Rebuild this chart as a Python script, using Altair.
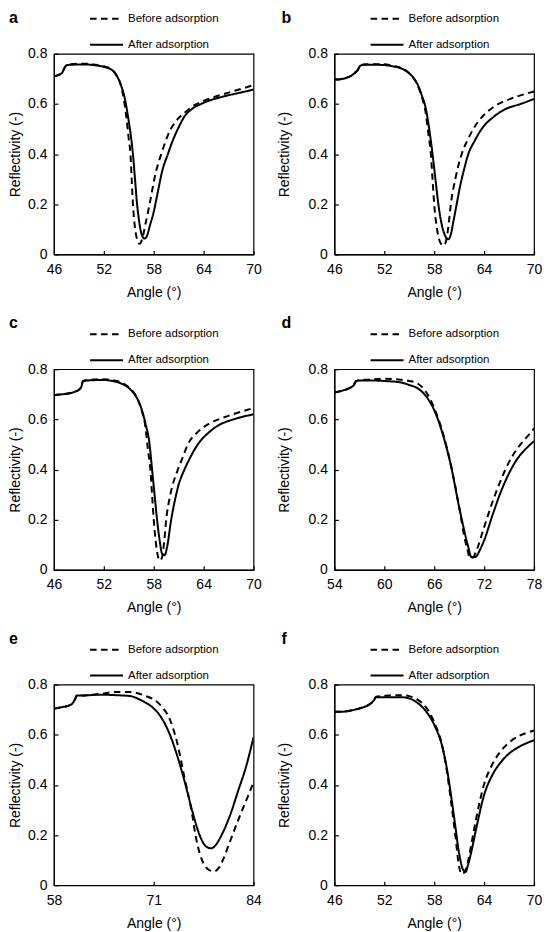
import altair as alt
import pandas as pd

FONT = "Liberation Sans"
SERIES = ["Before adsorption", "After adsorption"]
Y_TICKS = [0, 0.2, 0.4, 0.6, 0.8]

# ---------------- panel a ----------------
A_XTICKS = [46, 52, 58, 64, 70]
A_BEFORE_ANGLE = [46.0, 46.5, 47.0, 47.3, 47.6, 49.0, 50.0, 51.0, 52.0, 53.0, 53.5, 54.0, 54.4, 54.7, 55.0,
                  55.2, 55.35, 55.5, 55.7, 56.0, 56.3, 56.6, 57.0, 57.5, 58.2, 58.9, 59.9, 60.9, 61.9, 62.9,
                  64.0, 65.3, 67.0, 68.5, 70.0]
A_BEFORE_R = [0.710, 0.715, 0.725, 0.745, 0.757, 0.760, 0.760, 0.756, 0.750, 0.736, 0.715, 0.680, 0.620, 0.550, 0.460,
              0.400, 0.300, 0.200, 0.120, 0.060, 0.042, 0.060, 0.120, 0.200, 0.320, 0.400, 0.490, 0.540, 0.570, 0.595,
              0.612, 0.628, 0.645, 0.660, 0.675]
A_AFTER_ANGLE = [46.0, 46.5, 47.0, 47.3, 47.6, 49.0, 50.0, 51.0, 52.0, 53.0, 53.5, 54.0, 54.5, 55.0, 55.3,
                 55.5, 55.75, 56.0, 56.3, 56.6, 56.9, 57.2, 57.5, 58.0, 58.5, 59.0, 59.7, 60.3, 60.9, 61.7,
                 62.6, 63.7, 65.0, 66.4, 68.0, 70.0]
A_AFTER_R = [0.710, 0.715, 0.725, 0.745, 0.755, 0.757, 0.757, 0.754, 0.748, 0.735, 0.715, 0.680, 0.625, 0.530, 0.460,
             0.400, 0.300, 0.200, 0.120, 0.075, 0.063, 0.075, 0.110, 0.170, 0.250, 0.330, 0.400, 0.455, 0.500, 0.550,
             0.580, 0.600, 0.617, 0.630, 0.642, 0.657]

# ---------------- panel b ----------------
B_XTICKS = [46, 52, 58, 64, 70]
B_BEFORE_ANGLE = [46.0, 47.0, 47.5, 48.0, 48.5, 48.8, 49.1, 49.5, 50.0, 52.0, 53.0, 54.0, 55.0, 56.0, 56.5,
                  57.0, 57.3, 57.6, 57.8, 58.0, 58.3, 58.7, 59.1, 59.4, 59.7, 60.0, 60.6, 61.3, 62.0, 62.7,
                  63.8, 65.0, 66.4, 68.0, 70.0]
B_BEFORE_R = [0.697, 0.700, 0.705, 0.712, 0.725, 0.735, 0.752, 0.757, 0.758, 0.758, 0.752, 0.744, 0.722, 0.675, 0.630,
              0.560, 0.480, 0.400, 0.300, 0.200, 0.110, 0.050, 0.035, 0.050, 0.110, 0.200, 0.310, 0.400, 0.455, 0.500,
              0.550, 0.585, 0.610, 0.630, 0.650]
B_AFTER_ANGLE = [46.0, 47.0, 47.5, 48.0, 48.5, 48.8, 49.1, 49.5, 51.0, 52.0, 53.0, 54.0, 55.0, 55.5, 56.0,
                 56.5, 57.0, 57.4, 57.8, 58.15, 58.5, 58.9, 59.3, 59.7, 60.0, 60.3, 60.7, 61.1, 61.6, 62.1,
                 62.9, 63.7, 65.2, 66.6, 68.4, 70.0]
B_AFTER_R = [0.697, 0.700, 0.705, 0.712, 0.725, 0.735, 0.752, 0.756, 0.756, 0.755, 0.750, 0.742, 0.722, 0.705, 0.678,
             0.635, 0.580, 0.500, 0.400, 0.300, 0.200, 0.120, 0.075, 0.060, 0.080, 0.130, 0.200, 0.270, 0.340, 0.400,
             0.455, 0.500, 0.550, 0.580, 0.600, 0.620]

# ---------------- panel c ----------------
C_XTICKS = [46, 52, 58, 64, 70]
C_BEFORE_ANGLE = [46.0, 47.0, 48.0, 48.5, 49.0, 49.3, 49.5, 50.0, 52.0, 53.0, 54.0, 55.0, 56.0, 56.5, 57.0,
                  57.3, 57.6, 57.8, 58.0, 58.25, 58.5, 58.75, 59.0, 59.25, 59.5, 60.0, 60.9, 61.5, 62.1, 63.3,
                  64.5, 65.8, 67.5, 70.0]
C_BEFORE_R = [0.697, 0.700, 0.705, 0.710, 0.718, 0.730, 0.752, 0.757, 0.760, 0.757, 0.748, 0.728, 0.685, 0.640, 0.570,
              0.480, 0.400, 0.300, 0.200, 0.110, 0.055, 0.037, 0.050, 0.110, 0.200, 0.300, 0.400, 0.450, 0.500, 0.550,
              0.580, 0.600, 0.620, 0.645]
C_AFTER_ANGLE = [46.0, 47.0, 48.0, 48.5, 49.0, 49.3, 49.5, 50.0, 52.0, 53.0, 54.0, 55.0, 55.5, 56.0, 56.5,
                 57.0, 57.5, 57.8, 58.1, 58.4, 58.7, 59.0, 59.3, 59.6, 60.1, 60.5, 61.0, 61.7, 62.5, 63.3,
                 64.7, 66.0, 67.6, 70.0]
C_AFTER_R = [0.697, 0.700, 0.705, 0.710, 0.718, 0.730, 0.752, 0.755, 0.757, 0.753, 0.744, 0.725, 0.708, 0.684, 0.645,
             0.584, 0.500, 0.400, 0.300, 0.200, 0.120, 0.065, 0.058, 0.090, 0.200, 0.270, 0.340, 0.400, 0.455, 0.500,
             0.550, 0.580, 0.600, 0.620]

# ---------------- panel d ----------------
D_XTICKS = [54, 60, 66, 72, 78]
D_BEFORE_ANGLE = [54.0, 55.0, 55.5, 56.0, 56.3, 56.6, 57.0, 58.0, 60.0, 62.0, 63.0, 64.0, 65.0, 66.0, 67.0,
                  68.0, 69.0, 69.7, 70.0, 70.3, 70.7, 71.0, 72.0, 73.0, 74.0, 75.0, 76.0, 77.0, 78.0]
D_BEFORE_R = [0.707, 0.715, 0.720, 0.728, 0.735, 0.752, 0.756, 0.758, 0.762, 0.758, 0.753, 0.743, 0.710, 0.645, 0.550,
              0.420, 0.250, 0.120, 0.080, 0.047, 0.050, 0.070, 0.170, 0.270, 0.357, 0.430, 0.484, 0.524, 0.564]
D_AFTER_ANGLE = [54.0, 55.0, 55.5, 56.0, 56.3, 56.6, 57.0, 58.0, 60.0, 62.0, 63.0, 64.0, 65.0, 66.0, 67.0,
                 68.0, 69.0, 70.0, 70.5, 71.0, 71.5, 72.0, 73.0, 74.0, 75.0, 76.0, 77.0, 78.0]
D_AFTER_R = [0.707, 0.715, 0.720, 0.728, 0.735, 0.752, 0.755, 0.755, 0.753, 0.747, 0.737, 0.724, 0.693, 0.637, 0.544,
             0.417, 0.250, 0.104, 0.050, 0.052, 0.080, 0.117, 0.217, 0.310, 0.385, 0.443, 0.482, 0.513]

# ---------------- panel e ----------------
E_XTICKS = [58, 71, 84]
E_BEFORE_ANGLE = [58.0, 59.0, 60.0, 60.5, 60.8, 61.0, 62.0, 64.0, 66.0, 68.0, 70.0, 71.0, 72.0, 73.0, 74.0,
                  75.0, 76.0, 76.5, 77.0, 78.0, 78.8, 79.5, 80.0, 81.0, 82.0, 83.0, 84.0]
E_BEFORE_R = [0.704, 0.710, 0.717, 0.728, 0.745, 0.757, 0.757, 0.763, 0.770, 0.770, 0.754, 0.741, 0.714, 0.668, 0.575,
              0.430, 0.284, 0.190, 0.126, 0.066, 0.055, 0.070, 0.100, 0.180, 0.260, 0.335, 0.410]
E_AFTER_ANGLE = [58.0, 59.0, 60.0, 60.5, 60.8, 61.0, 62.0, 64.0, 66.0, 68.0, 69.0, 70.0, 71.0, 72.0, 73.0,
                 74.0, 75.0, 76.0, 77.0, 77.8, 78.5, 79.0, 80.0, 81.0, 82.0, 83.0, 84.0]
E_AFTER_R = [0.704, 0.710, 0.717, 0.728, 0.745, 0.757, 0.757, 0.760, 0.758, 0.754, 0.743, 0.727, 0.705, 0.668, 0.608,
             0.522, 0.417, 0.298, 0.198, 0.155, 0.147, 0.158, 0.210, 0.284, 0.377, 0.470, 0.590]

# ---------------- panel f ----------------
F_XTICKS = [46, 52, 58, 64, 70]
F_BEFORE_ANGLE = [46.0, 47.0, 48.0, 49.0, 50.0, 50.5, 50.8, 51.0, 52.0, 53.0, 54.0, 55.0, 56.0, 57.0, 58.0,
                  59.0, 59.5, 60.0, 60.5, 61.0, 61.3, 61.6, 62.0, 62.5, 63.0, 64.0, 65.0, 66.0, 67.0, 68.0,
                  69.0, 70.0]
F_BEFORE_R = [0.692, 0.692, 0.697, 0.705, 0.717, 0.728, 0.740, 0.752, 0.755, 0.758, 0.758, 0.754, 0.740, 0.710, 0.650,
              0.550, 0.460, 0.340, 0.210, 0.073, 0.044, 0.050, 0.086, 0.170, 0.258, 0.403, 0.483, 0.535, 0.569, 0.592,
              0.606, 0.617]
F_AFTER_ANGLE = [46.0, 47.0, 48.0, 49.0, 50.0, 50.5, 50.8, 51.0, 52.0, 53.0, 54.0, 55.0, 56.0, 57.0, 58.0,
                 59.0, 59.5, 60.0, 60.5, 61.0, 61.5, 61.8, 62.0, 62.5, 63.0, 64.0, 65.0, 66.0, 67.0, 68.0,
                 69.0, 70.0]
F_AFTER_R = [0.692, 0.692, 0.697, 0.705, 0.717, 0.728, 0.740, 0.750, 0.750, 0.750, 0.750, 0.745, 0.727, 0.694, 0.640,
             0.549, 0.470, 0.364, 0.245, 0.126, 0.060, 0.053, 0.073, 0.139, 0.218, 0.360, 0.440, 0.490, 0.525, 0.548,
             0.565, 0.578]

W, H = 200, 201


def panel(letter, xticks, ba, br, aa, ar, left_col, row):
    df = pd.DataFrame({
        "angle": ba + aa,
        "refl": br + ar,
        "series": [SERIES[0]] * len(ba) + [SERIES[1]] * len(aa),
    })
    xscale = alt.Scale(domain=[xticks[0], xticks[-1]], nice=False, zero=False)
    yscale = alt.Scale(domain=[0, 0.8], nice=False, zero=False)

    lines = alt.Chart(df).mark_line(
        color="black", strokeWidth=2, interpolate="monotone", clip=True
    ).encode(
        x=alt.X("angle:Q", scale=xscale, axis=alt.Axis(
            orient="bottom", values=xticks, format="d", title="Angle (°)", ticks=False,
            labelPadding=8, titleY=38, titleBaseline="middle", labelFlush=False)),
        y=alt.Y("refl:Q", scale=yscale, axis=alt.Axis(
            orient="left", values=Y_TICKS, title="Reflectivity (-)", ticks=False,
            labelPadding=7, titleX=(-38 if left_col else -50), titleBaseline="middle",
            labelFlush=False,
            labelExpr="datum.value == 0 ? '0' : format(datum.value, '.1f')")),
        strokeDash=alt.StrokeDash(
            "series:N",
            scale=alt.Scale(domain=SERIES, range=[[6.5, 4.5], [1, 0]]),
            legend=alt.Legend(
                title=None, orient="none", legendX=47, legendY=-40.75,
                symbolType="M-4,0H4", symbolSize=68, symbolStrokeWidth=2,
                symbolStrokeColor="black", labelFont=FONT, labelFontSize=11.5,
                labelColor="black", labelOffset=15.75, rowPadding=13, padding=0,
                direction="vertical", labelLimit=300)),
    )

    tick_layer = alt.Chart(df).mark_point(opacity=0).encode(
        x=alt.X("angle:Q", scale=xscale, axis=alt.Axis(
            orient="bottom", offset=-4, values=xticks, ticks=True, tickSize=4,
            labels=False, domain=False, title=None)),
        y=alt.Y("refl:Q", scale=yscale, axis=alt.Axis(
            orient="left", offset=-4, values=Y_TICKS, ticks=True, tickSize=4,
            labels=False, domain=False, title=None)),
    )

    ly = -44 if row == 0 else -54
    lx = -45 if left_col else -53
    letter_layer = alt.Chart(pd.DataFrame({"t": [letter]})).mark_text(
        font=FONT, fontSize=16, fontWeight="bold", align="left",
        baseline="top", color="black"
    ).encode(text="t:N", x=alt.value(lx), y=alt.value(ly))

    return alt.layer(lines, tick_layer, letter_layer).resolve_axis(
        x="independent", y="independent"
    ).properties(width=W, height=H)


panels = [
    panel("a", A_XTICKS, A_BEFORE_ANGLE, A_BEFORE_R, A_AFTER_ANGLE, A_AFTER_R, True, 0),
    panel("b", B_XTICKS, B_BEFORE_ANGLE, B_BEFORE_R, B_AFTER_ANGLE, B_AFTER_R, False, 0),
    panel("c", C_XTICKS, C_BEFORE_ANGLE, C_BEFORE_R, C_AFTER_ANGLE, C_AFTER_R, True, 1),
    panel("d", D_XTICKS, D_BEFORE_ANGLE, D_BEFORE_R, D_AFTER_ANGLE, D_AFTER_R, False, 1),
    panel("e", E_XTICKS, E_BEFORE_ANGLE, E_BEFORE_R, E_AFTER_ANGLE, E_AFTER_R, True, 2),
    panel("f", F_XTICKS, F_BEFORE_ANGLE, F_BEFORE_R, F_AFTER_ANGLE, F_AFTER_R, False, 2),
]

chart = alt.concat(
    *panels, columns=2, spacing={"row": 115, "column": 81}, bounds="flush"
).resolve_scale(
    strokeDash="independent"
).resolve_legend(
    strokeDash="independent"
).properties(
    padding=0, background="white"
).configure_view(
    stroke="black", strokeWidth=1.2
).configure_axis(
    grid=False, labelFont=FONT, labelFontSize=14, labelColor="black",
    titleFont=FONT, titleFontSize=14, titleFontWeight="normal", titleColor="black",
    domainColor="black", domainWidth=1.2, tickColor="black", tickWidth=1.2,
    labelOverlap=False
)

chart.save("out.html", embed_options={"renderer": "svg", "actions": False})
